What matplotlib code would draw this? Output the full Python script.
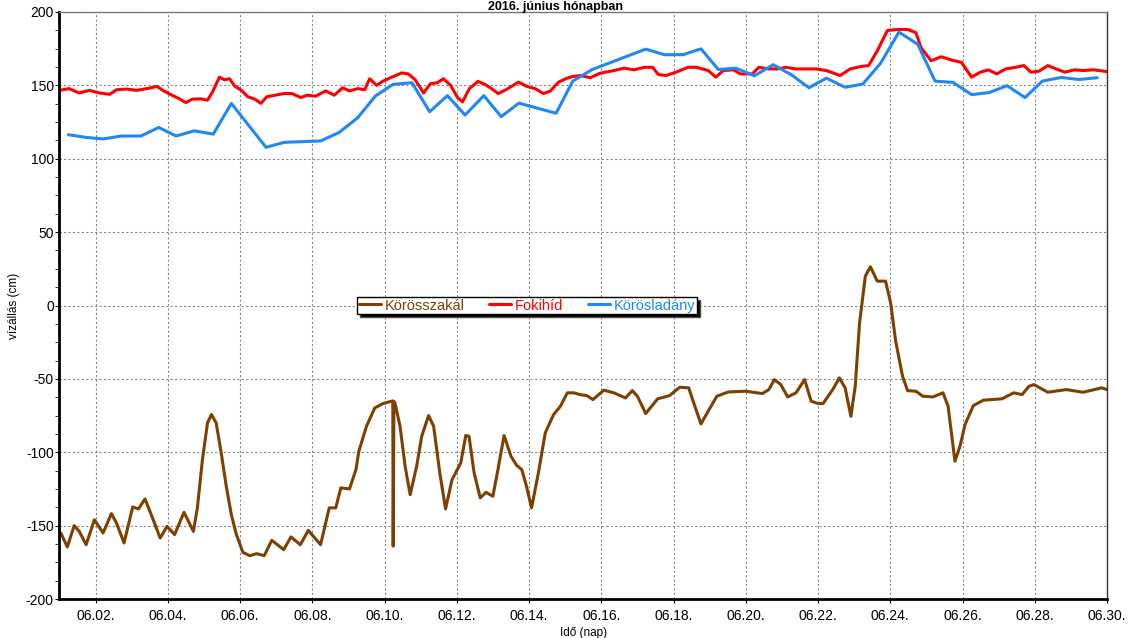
import matplotlib
matplotlib.use("Agg")
import matplotlib.pyplot as plt
import numpy as np

plt.rcParams['font.family'] = ['Liberation Sans', 'DejaVu Sans']
plt.rcParams['axes.unicode_minus'] = False

# ---- data (day of June, water level in cm) ----
szakal_day = [1.04, 1.22, 1.41, 1.55, 1.74, 1.97, 2.21, 2.44, 2.58, 2.79, 3.03, 3.19, 3.37, 3.56,
              3.79, 3.98, 4.19, 4.45, 4.71, 4.82, 4.96, 5.10, 5.21, 5.34, 5.48, 5.62, 5.76, 5.90,
              6.08, 6.27, 6.46, 6.67, 6.88, 7.21, 7.41, 7.67, 7.89, 8.23, 8.47, 8.65, 8.79, 9.03,
              9.21, 9.29, 9.50, 9.73, 9.96, 10.20, 10.23, 10.24, 10.26, 10.29, 10.43, 10.57, 10.71,
              10.89, 11.03, 11.22, 11.36, 11.53, 11.69, 11.87, 12.11, 12.25, 12.34, 12.48, 12.65,
              12.81, 13.00, 13.14, 13.31, 13.50, 13.66, 13.80, 13.93, 14.07, 14.26, 14.45, 14.68,
              14.87, 15.06, 15.24, 15.41, 15.60, 15.77, 16.07, 16.35, 16.67, 16.86, 17.00, 17.23,
              17.56, 17.89, 18.17, 18.42, 18.59, 18.76, 18.96, 19.20, 19.52, 19.99, 20.46, 20.64,
              20.79, 20.97, 21.16, 21.39, 21.63, 21.81, 22.00, 22.14, 22.42, 22.59, 22.75, 22.91,
              23.03, 23.15, 23.31, 23.45, 23.64, 23.87, 24.01, 24.15, 24.34, 24.48, 24.71, 24.90,
              25.18, 25.46, 25.60, 25.79, 25.93, 26.07, 26.30, 26.58, 27.09, 27.42, 27.65, 27.84,
              27.98, 28.36, 28.87, 29.34, 29.85, 30.00]
szakal_val = [-155, -164.5, -150, -153.9, -163, -146, -155, -141.8, -148.2, -161.8, -137.3, -138.6,
              -131.8, -143.6, -158.4, -150.5, -156.1, -140.9, -153.9, -137.9, -105, -80, -74.3, -80,
              -100.5, -123.2, -142.5, -156.1, -168.2, -170.5, -169.1, -170.5, -160, -166.4, -157.7,
              -163, -153.2, -163, -137.9, -137.9, -124.3, -125, -111.8, -99.3, -82.3, -69.8, -66.8,
              -65.2, -65.0, -164, -65.5, -66.4, -82.3, -109.5, -128.9, -109.5, -89.1, -75, -82.3,
              -114, -138.6, -118.6, -107.3, -88.6, -89.1, -114, -131.1, -127.3, -130, -111.8, -88.6,
              -102.7, -109, -111.8, -123.2, -137.9, -114, -86.8, -74.3, -68.6, -59.5, -59.5, -60.7,
              -61.4, -64.1, -57.7, -59.5, -63, -58, -61.8, -73.6, -63.6, -61.4, -55.7, -56.1, -68.6,
              -80.7, -72, -61.8, -58.9, -58.4, -60, -57.3, -50.5, -53.9, -62.3, -59.5, -50.5, -65.2,
              -66.8, -66.8, -56.8, -49.3, -56.1, -75.5, -55, -11.8, 20, 26.4, 16.6, 16.6, 1.8, -24.3,
              -48.2, -58, -58.4, -61.8, -62.3, -59.5, -68.6, -106.1, -95.9, -81.1, -68.2, -64.5,
              -63.6, -59.5, -60.7, -55, -53.9, -59.1, -57.3, -59.1, -56.1, -57.3]

foki_day = [1.00, 1.27, 1.55, 1.83, 2.11, 2.39, 2.58, 2.86, 3.14, 3.42, 3.70, 3.89, 4.07, 4.31,
            4.50, 4.68, 4.92, 5.10, 5.24, 5.43, 5.57, 5.71, 5.85, 6.04, 6.22, 6.41, 6.58, 6.74,
            6.97, 7.21, 7.44, 7.68, 7.86, 8.09, 8.37, 8.61, 8.84, 9.03, 9.26, 9.45, 9.59, 9.78,
            9.96, 10.20, 10.48, 10.66, 10.85, 11.08, 11.27, 11.46, 11.63, 11.83, 12.02, 12.16,
            12.35, 12.59, 12.78, 12.96, 13.15, 13.38, 13.71, 13.94, 14.17, 14.40, 14.59, 14.82,
            15.01, 15.20, 15.43, 15.69, 15.97, 16.35, 16.63, 16.91, 17.19, 17.42, 17.58, 17.79,
            18.07, 18.40, 18.64, 18.96, 19.17, 19.38, 19.66, 19.85, 20.18, 20.36, 20.64, 20.88,
            21.11, 21.39, 21.67, 21.95, 22.23, 22.61, 22.89, 23.17, 23.40, 23.64, 23.92, 24.20,
            24.48, 24.71, 24.85, 25.13, 25.41, 25.69, 25.97, 26.25, 26.49, 26.72, 26.95, 27.19,
            27.47, 27.70, 27.89, 28.12, 28.36, 28.59, 28.83, 29.10, 29.34, 29.62, 30.00]
foki_val = [146.6, 147.8, 144.8, 146.6, 144.8, 143.9, 147, 147.5, 146.6, 147.8, 149.3, 146.2, 143.9,
            141, 138.3, 140.6, 140.8, 139.9, 145.5, 155.6, 153.8, 154.5, 149.6, 146.6, 142.2, 140.6,
            137.7, 142.2, 143.3, 144.4, 144.4, 141.7, 143.3, 142.6, 146.2, 143.3, 148.4, 146.2,
            147.8, 147, 154.5, 150, 152.9, 155.6, 158.5, 157.8, 153.8, 144.8, 151.1, 151.8, 154.5,
            150, 141.7, 138.8, 147.8, 152.7, 150.7, 147.8, 144.4, 147.3, 152.2, 149.3, 147.8,
            144.4, 146.2, 152.2, 154.5, 156, 156.7, 155.2, 158.3, 160.1, 161.7, 160.6, 162.3,
            162.3, 157.4, 156.7, 159, 162.3, 162.3, 160.1, 155.6, 160.1, 160.6, 157.8, 157.8, 162.3,
            161.2, 161.2, 162.3, 161.2, 161.2, 161.2, 160.1, 156.7, 161.2, 162.8, 163.5, 173.5,
            187.4, 188.1, 188.1, 185.9, 175.8, 166.8, 169.5, 167.3, 165.7, 155.6, 159, 160.5, 157.8,
            161.2, 162.3, 163.5, 159, 159.7, 163.5, 161.2, 159, 160.6, 160.1, 160.6, 159.4]

ladany_day = [1.25, 1.75, 2.21, 2.72, 3.26, 3.75, 4.23, 4.73, 5.26, 5.76, 6.72, 7.23, 8.23, 8.75,
              9.26, 9.75, 10.24, 10.76, 11.25, 11.74, 12.23, 12.75, 13.23, 13.72, 14.75, 15.21,
              15.75, 17.23, 17.75, 18.26, 18.76, 19.24, 19.73, 20.24, 20.76, 21.25, 21.75, 22.23,
              22.75, 23.24, 23.73, 24.24, 24.76, 25.24, 25.74, 26.25, 26.74, 27.23, 27.73, 28.21,
              28.73, 29.22, 29.73]
ladany_val = [116.4, 114.5, 113.5, 115.5, 115.5, 121.3, 115.5, 119, 116.8, 137.7, 107.8, 111.2,
              112.1, 118, 128, 142.8, 150.7, 151.8, 132, 143, 129.8, 143, 128.7, 137.9, 131, 152.9,
              160.8, 174.7, 170.9, 170.9, 174.9, 160.8, 161.7, 156.5, 164.1, 157.4, 148.4, 154.9,
              148.7, 150.9, 165, 186.3, 178, 152.9, 152, 143.7, 145.1, 149.8, 141.7, 152.9, 155.4,
              154, 155.2]

series_names = ['Körösszakál', 'Fokihíd', 'Körösladány']
tick_days = list(range(2, 31, 2))
tick_labels = [f"06.{d:02d}." for d in tick_days]

colors = ['#7f3f00', '#ff0000', '#1e88f5']

fig = plt.figure(figsize=(11.31, 6.38), dpi=100)
ax = fig.add_axes([0.0525, 0.0611, 0.9263, 0.9201])

for d, v, c, n in zip([szakal_day, foki_day, ladany_day], [szakal_val, foki_val, ladany_val],
                      colors, series_names):
    ax.plot(d, v, color=c, lw=2.2, label=n, solid_joinstyle='round', solid_capstyle='round')

ax.set_xlim(1, 30)
ax.set_ylim(-200, 200)
ax.set_xticks(tick_days)
ax.set_xticklabels(tick_labels)
ax.set_yticks(np.arange(-200, 201, 50))
ax.set_yticks(np.arange(-200, 201, 12.5), minor=True)
ax.tick_params(axis='both', labelsize=10, direction='out', length=3, width=0.8, colors='black')
ax.tick_params(axis='y', which='minor', length=3, width=0.6)
ax.tick_params(axis='y', pad=1)
ax.tick_params(axis='x', pad=4)
ax.grid(True, which='major', color='#888888', linestyle=(0, (2, 2)), linewidth=0.8)

for s in ['left', 'bottom']:
    ax.spines[s].set_linewidth(2)
    ax.spines[s].set_color('black')
ax.spines['top'].set_color('#777777')
ax.spines['top'].set_linewidth(1)
ax.spines['right'].set_color('#333333')
ax.spines['right'].set_linewidth(1)

ax.set_ylabel('vízállás (cm)', fontsize=8.5, labelpad=4)
ax.set_xlabel('Idő (nap)', fontsize=8.5, labelpad=3)

leg = ax.legend(loc='center', bbox_to_anchor=(0.4465, 0.5), ncol=3, fontsize=10.5,
                frameon=True, fancybox=False, edgecolor='black', framealpha=1,
                handlelength=1.5, handletextpad=0.25, columnspacing=1.7,
                borderpad=0.12, borderaxespad=0,
                shadow={'facecolor': 'black', 'alpha': 1})
leg.get_frame().set_linewidth(1)
for t, c in zip(leg.get_texts(), colors):
    t.set_color(c)

fig.text(556 / 1131, 1 - 10 / 638, '2016. június hónapban', ha='center', va='baseline',
         fontsize=9, fontweight='bold')

fig.savefig('out.png', dpi=100)
